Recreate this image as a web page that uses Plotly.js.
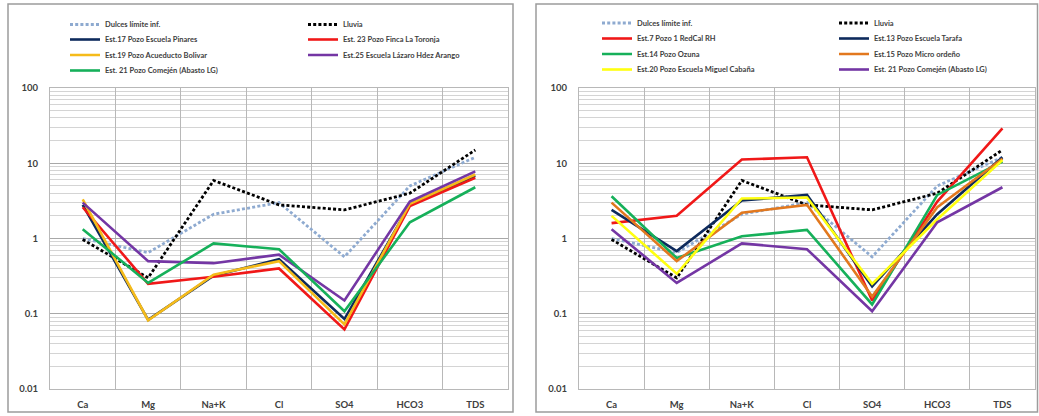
<!DOCTYPE html>
<html><head><meta charset="utf-8">
<script src="https://cdn.plot.ly/plotly-3.0.1.min.js"></script>
<style>html,body{margin:0;padding:0;background:#fff}#chart{width:1039px;height:416px}</style>
</head><body><div id="chart"></div>
<script>
// ---- data ----
const categories = ["Ca", "Mg", "Na+K", "Cl", "SO4", "HCO3", "TDS"];
const yTickVals = [0.01, 0.1, 1, 10, 100];
const yTickText = ["0.01", "0.1", "1", "10", "100"];

const dulces = [1.0, 0.65, 2.1, 3.0, 0.57, 5.0, 12];
const lluvia = [0.97, 0.3, 5.9, 2.8, 2.4, 4.0, 15];

// left panel
const est17 = [2.8, 0.083, 0.32, 0.53, 0.085, 2.8, 6.8];
const est23 = [2.6, 0.25, 0.31, 0.40, 0.062, 2.7, 6.4];
const est19 = [3.3, 0.082, 0.33, 0.50, 0.072, 2.9, 7.1];
const est25 = [3.0, 0.50, 0.47, 0.61, 0.15, 3.1, 7.8];
const est21 = [1.33, 0.257, 0.86, 0.72, 0.108, 1.64, 4.8];

// right panel
const est7 = [1.6, 2.0, 11.2, 12, 0.15, 3.1, 29];
const est13 = [2.4, 0.68, 3.2, 3.8, 0.23, 2.1, 12];
const est14 = [3.65, 0.55, 1.07, 1.3, 0.133, 3.8, 10.5];
const est15 = [3.0, 0.50, 2.2, 2.8, 0.17, 2.6, 11.5];
const est20 = [2.0, 0.34, 3.4, 3.5, 0.25, 1.8, 11];

const names = {
  dulces: "Dulces límite inf.",
  lluvia: "Lluvia",
  est17: "Est.17 Pozo Escuela Pinares",
  est23: "Est. 23 Pozo Finca La Toronja",
  est19: "Est.19 Pozo Acueducto Bolivar",
  est25: "Est.25 Escuela Lázaro Hdez Arango",
  est21: "Est. 21 Pozo Comején (Abasto LG)",
  est7: "Est.7 Pozo 1 RedCal RH",
  est13: "Est.13 Pozo Escuela Tarafa",
  est14: "Est.14 Pozo Ozuna",
  est15: "Est.15 Pozo Micro ordeño",
  est20: "Est.20 Pozo Escuela Miguel Cabaña"
};

// ---- layout helpers ----
const W = 1039, H = 416;
const px = x => x / W, py = y => 1 - y / H;
const DOT = "3px,2.2px";

const C = {
  dulces: "#8eaad0", lluvia: "#000000", navy: "#0d2a5c", red: "#f01818",
  gold: "#f5bb1a", purple: "#7436a4", green: "#16b05a", orange: "#e2781e", yellow: "#ffff10"
};

// [name, values, color, dash, col, row]
const left = [
  [names.dulces, dulces, C.dulces, DOT, 0, 0],
  [names.lluvia, lluvia, C.lluvia, DOT, 1, 0],
  [names.est17, est17, C.navy, "solid", 0, 1],
  [names.est23, est23, C.red, "solid", 1, 1],
  [names.est19, est19, C.gold, "solid", 0, 2],
  [names.est25, est25, C.purple, "solid", 1, 2],
  [names.est21, est21, C.green, "solid", 0, 3]
];
const right = [
  [names.dulces, dulces, C.dulces, DOT, 0, 0],
  [names.lluvia, lluvia, C.lluvia, DOT, 1, 0],
  [names.est7, est7, C.red, "solid", 0, 1],
  [names.est13, est13, C.navy, "solid", 1, 1],
  [names.est14, est14, C.green, "solid", 0, 2],
  [names.est15, est15, C.orange, "solid", 1, 2],
  [names.est20, est20, C.yellow, "solid", 0, 3],
  [names.est21, est21, C.purple, "solid", 1, 3]
];

const legendFont = {family: "Lato, 'Open Sans', sans-serif", size: 7.5, color: "#404040", weight: 700};
const tickFont = {family: "Lato, 'Open Sans', sans-serif", size: 9.5, color: "#404040", weight: 700};

const traces = [];
const layout = {
  width: W, height: H,
  margin: {l: 0, r: 0, t: 0, b: 0},
  paper_bgcolor: "#ffffff", plot_bgcolor: "#ffffff",
  showlegend: true,
  shapes: [
    {type: "rect", xref: "paper", yref: "paper", x0: px(8), x1: px(513), y0: py(412), y1: py(4),
      line: {color: "#9c9c9c", width: 1.5}, layer: "below"},
    {type: "rect", xref: "paper", yref: "paper", x0: px(536), x1: px(1037.5), y0: py(412), y1: py(4),
      line: {color: "#9c9c9c", width: 1.5}, layer: "below"}
  ]
};

let legendIdx = 0;
function addPanel(list, xa, ya, colX, rowY) {
  list.forEach(([name, vals, color, dash, col, row]) => {
    legendIdx += 1;
    const key = legendIdx === 1 ? "legend" : "legend" + legendIdx;
    traces.push({
      type: "scatter", mode: "lines", x: categories, y: vals, name: name,
      xaxis: xa, yaxis: ya, legend: key,
      line: {color: color, width: dash === "solid" ? 2.6 : 2.8, dash: dash}
    });
    layout[key] = {
      x: px(colX[col]), y: py(rowY[row]), xanchor: "left", yanchor: "middle",
      xref: "paper", yref: "paper",
      bgcolor: "rgba(0,0,0,0)", borderwidth: 0, font: legendFont,
      itemclick: false, itemdoubleclick: false
    };
  });
}
addPanel(left, "x", "y", [65, 303], [24.5, 39.5, 55, 70.5]);
addPanel(right, "x2", "y2", [597, 834], [23, 38.5, 54, 69.5]);

function xAxis(domain, anchor) {
  return {
    domain: domain, anchor: anchor, type: "category", range: [-0.5, 6.5],
    tickson: "boundaries", showgrid: true, gridcolor: "#b8b8b8", gridwidth: 1,
    showline: true, mirror: true, linecolor: "#b8b8b8", linewidth: 1,
    ticks: "", ticklabelstandoff: 7, tickfont: tickFont, zeroline: false, fixedrange: true
  };
}
function yAxis(anchor) {
  return {
    domain: [py(389), py(88)], anchor: anchor, type: "log", range: [-2, 2],
    tickmode: "array", tickvals: yTickVals, ticktext: yTickText,
    showgrid: true, gridcolor: "#a8a8a8", gridwidth: 1.2,
    minor: {dtick: "D1", showgrid: true, gridcolor: "#d4d4d4", gridwidth: 1, ticks: ""},
    showline: true, mirror: true, linecolor: "#b8b8b8", linewidth: 1,
    ticks: "", ticklabelstandoff: 9, tickfont: tickFont, zeroline: false, fixedrange: true
  };
}
layout.xaxis = xAxis([px(50), px(508)], "y");
layout.yaxis = yAxis("x");
layout.xaxis2 = xAxis([px(579), px(1035)], "y2");
layout.yaxis2 = yAxis("x2");

Plotly.newPlot("chart", traces, layout, {staticPlot: true, displayModeBar: false});
</script>
</body></html>
